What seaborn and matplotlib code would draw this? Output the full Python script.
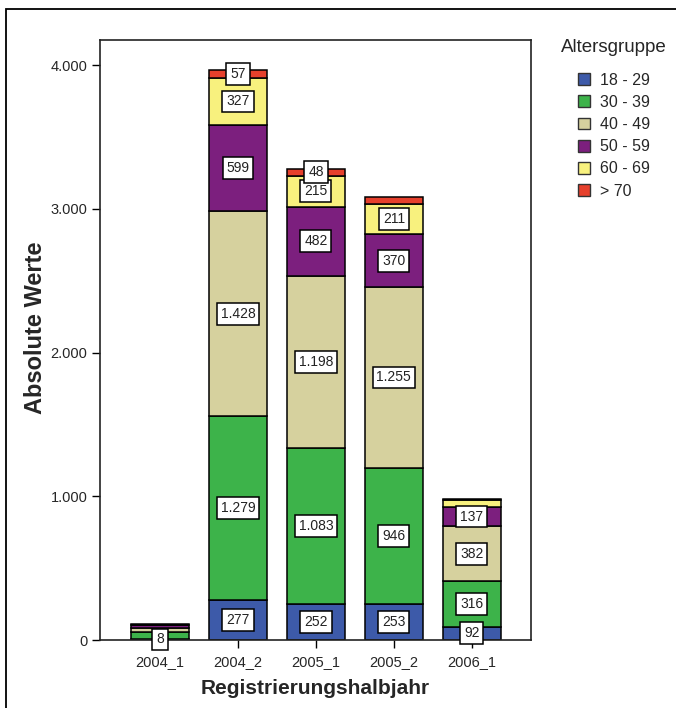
import matplotlib
matplotlib.use("Agg")
import matplotlib.pyplot as plt
import matplotlib.patches as mpatches
from matplotlib.ticker import FuncFormatter
import numpy as np
import pandas as pd
import seaborn as sns

# Registrations per half-year, split by age group
periods = ["2004_1", "2004_2", "2005_1", "2005_2", "2006_1"]
age_groups = ["18 - 29", "30 - 39", "40 - 49", "50 - 59", "60 - 69", "> 70"]
g_18_29 = [8, 277, 252, 253, 92]
g_30_39 = [45, 1279, 1083, 946, 316]
g_40_49 = [30, 1428, 1198, 1255, 382]
g_50_59 = [18, 599, 482, 370, 137]
g_60_69 = [5, 327, 215, 211, 45]
g_70_plus = [2, 57, 48, 45, 8]
# which segments carry a value box
show_label = [
    [True, True, True, True, True],
    [False, True, True, True, True],
    [False, True, True, True, True],
    [False, True, True, True, True],
    [False, True, True, True, False],
    [False, True, True, False, False],
]

colors = ["#3D5AA9", "#3DB34A", "#D6D19E", "#7C1F7E", "#F8F17E", "#E6402C"]

series = [g_18_29, g_30_39, g_40_49, g_50_59, g_60_69, g_70_plus]
df = pd.DataFrame({"Registrierungshalbjahr": periods})
for name, vals in zip(age_groups, series):
    df[name] = vals

sns.set_style("white")
plt.rcParams["font.family"] = ["Liberation Sans", "DejaVu Sans"]

fig = plt.figure(figsize=(6.76, 7.08), dpi=100)
ax = fig.add_axes([100 / 676, 1 - 640 / 708, 431 / 676, 600 / 708])


def de_fmt(v):
    return f"{int(round(v)):,}".replace(",", ".")


bottom = np.zeros(len(periods))
for name, col in zip(age_groups, colors):
    vals = df[name].to_numpy(dtype=float)
    sns.barplot(data=df, x="Registrierungshalbjahr", y=name, order=periods,
                bottom=bottom, color=col, saturation=1, width=0.74,
                edgecolor="black", linewidth=1.1, errorbar=None, ax=ax)
    bottom = bottom + vals

bottom = np.zeros(len(periods))
for gi, (name, vals) in enumerate(zip(age_groups, series)):
    for i, v in enumerate(vals):
        if show_label[gi][i]:
            ax.text(i, bottom[i] + v / 2, de_fmt(v), ha="center", va="center",
                    fontsize=10, color="#222222",
                    bbox=dict(boxstyle="square,pad=0.28", fc="white",
                              ec="black", lw=1.1), zorder=5)
    bottom = bottom + np.array(vals)

ax.set_xlim(-0.77, 4.76)
ax.set_ylim(0, 4174)
ax.set_yticks([0, 1000, 2000, 3000, 4000])
ax.yaxis.set_major_formatter(FuncFormatter(lambda v, p: de_fmt(v)))
ax.tick_params(axis="both", which="major", direction="out", length=6,
               width=1.0, color="black", labelsize=10.5, pad=3,
               left=True, bottom=True)
ax.tick_params(axis="x", pad=5)
for sp in ax.spines.values():
    sp.set_visible(True)
    sp.set_color("#222222")
    sp.set_linewidth(1.2)

ax.set_xlabel("Registrierungshalbjahr", fontsize=15, fontweight="bold",
              labelpad=7)
ax.set_ylabel("Absolute Werte", fontsize=17, fontweight="bold")
ax.yaxis.set_label_coords(-0.122, 0.52)

handles = [mpatches.Patch(facecolor=c, edgecolor="#333333", lw=1.0, label=g)
           for c, g in zip(colors, age_groups)]
leg = ax.legend(handles=handles, title="Altersgruppe", loc="upper left",
                bbox_to_anchor=(561 / 676, 1 - 39 / 708),
                bbox_transform=fig.transFigure, frameon=False, fontsize=11.5,
                title_fontsize=13.5, handlelength=0.75, handleheight=0.75,
                handletextpad=0.6, labelspacing=0.45, borderaxespad=0,
                borderpad=0)
leg._legend_box.sep = 12

# outer frame around the whole chart
fig.add_artist(mpatches.Rectangle((6 / 676, -0.1), 2.0, 1 - 9 / 708 + 0.1,
                                  transform=fig.transFigure, fill=False,
                                  ec="black", lw=1.3, clip_on=False))

fig.savefig("out.png", dpi=100, facecolor="white")
